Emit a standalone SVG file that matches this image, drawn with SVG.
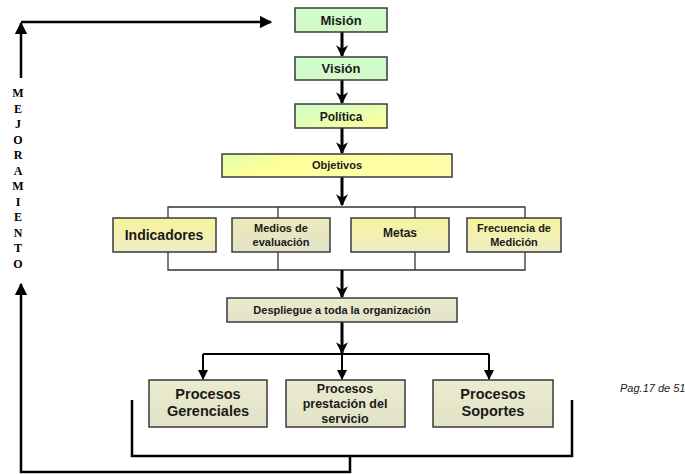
<svg xmlns="http://www.w3.org/2000/svg" width="685" height="474" viewBox="0 0 685 474">
  <style>
    .box { stroke: #3a3a3a; stroke-width: 1.5; }
    .lbl { font-family: "Liberation Sans", Arial, sans-serif; font-weight: bold; fill: #1a1a1a; text-anchor: middle; }
    .thick { fill: none; stroke: #000; stroke-width: 3; }
    .mid { fill: none; stroke: #000; stroke-width: 2; }
    .thin { fill: none; stroke: #333; stroke-width: 1.3; }
    .loop { fill: none; stroke: #000; stroke-width: 2.5; }
    .vert { font-family: "Liberation Serif", "Times New Roman", serif; font-weight: bold; font-size: 12px; fill: #000; text-anchor: middle; }
  </style>
  <defs>
    <marker id="ah" viewBox="0 0 10 10" refX="9" refY="5" markerWidth="4" markerHeight="4" orient="auto" markerUnits="strokeWidth">
      <path d="M0,0 L10,5 L0,10 L3,5 z" fill="#000"/>
    </marker>
    <marker id="ahs" viewBox="0 0 10 10" refX="9" refY="5" markerWidth="5" markerHeight="5" orient="auto" markerUnits="strokeWidth">
      <path d="M0,0 L10,5 L0,10 z" fill="#000"/>
    </marker>
    <linearGradient id="gGreen" x1="0" y1="0" x2="0" y2="1">
      <stop offset="0" stop-color="#ccffcc"/>
      <stop offset="1" stop-color="#d6f8c8"/>
    </linearGradient>
    <linearGradient id="gPol" x1="0" y1="0" x2="1" y2="1">
      <stop offset="0" stop-color="#ccffcc"/>
      <stop offset="1" stop-color="#ffff99"/>
    </linearGradient>
    <linearGradient id="gObj" x1="0" y1="0" x2="1" y2="0.3">
      <stop offset="0" stop-color="#ddffaa"/>
      <stop offset="0.35" stop-color="#ffff99"/>
      <stop offset="1" stop-color="#ffffaa"/>
    </linearGradient>
    <linearGradient id="gYel" x1="0" y1="0" x2="0" y2="1">
      <stop offset="0" stop-color="#f8f49a"/>
      <stop offset="1" stop-color="#eeecc8"/>
    </linearGradient>
    <linearGradient id="gBeige" x1="0" y1="0" x2="0" y2="1">
      <stop offset="0" stop-color="#eceab8"/>
      <stop offset="1" stop-color="#e2e2c8"/>
    </linearGradient>
    <linearGradient id="gProc" x1="0" y1="0" x2="0" y2="1">
      <stop offset="0" stop-color="#ebebcf"/>
      <stop offset="1" stop-color="#e2e2c6"/>
    </linearGradient>
  </defs>

  <!-- connectors -->
  <g id="connectors">
    <line class="thick" x1="342" y1="32" x2="342" y2="56" marker-end="url(#ah)"/>
    <line class="thick" x1="342" y1="80" x2="342" y2="103" marker-end="url(#ah)"/>
    <line class="thick" x1="342" y1="128" x2="342" y2="153" marker-end="url(#ah)"/>
    <line class="thick" x1="342" y1="177" x2="342" y2="205" marker-end="url(#ah)"/>
    <!-- frame around the four components -->
    <polyline class="thin" points="168,218 168,207 525,207 525,218"/>
    <line class="thin" x1="278" y1="207" x2="278" y2="218"/>
    <line class="thin" x1="415" y1="207" x2="415" y2="218"/>
    <polyline class="thin" points="168,252 168,270 525,270 525,252"/>
    <line class="thin" x1="278" y1="252" x2="278" y2="270"/>
    <line class="thin" x1="415" y1="252" x2="415" y2="270"/>
    <line class="thick" x1="342" y1="270" x2="342" y2="297" marker-end="url(#ah)"/>
    <line class="thick" x1="342" y1="322" x2="342" y2="353" marker-end="url(#ah)"/>
    <!-- branching to the processes -->
    <line class="mid" x1="203" y1="354" x2="489" y2="354"/>
    <line class="mid" x1="203" y1="354" x2="203" y2="379" marker-end="url(#ahs)"/>
    <line class="mid" x1="342" y1="354" x2="342" y2="379" marker-end="url(#ahs)"/>
    <line class="mid" x1="489" y1="354" x2="489" y2="379" marker-end="url(#ahs)"/>
    <!-- bracket under the processes -->
    <polyline class="loop" points="132,400 132,456 572,456 572,400"/>
    <!-- improvement feedback loop -->
    <polyline class="loop" points="350,456 350,472 21,472 21,284" marker-end="url(#ahs)"/>
    <line class="loop" x1="21" y1="78" x2="21" y2="23" marker-end="url(#ahs)"/>
    <line class="loop" x1="21" y1="22" x2="271" y2="22" marker-end="url(#ahs)"/>
  </g>

  <g id="mision">
    <rect class="box" x="295" y="8" width="92" height="24" fill="url(#gGreen)"/>
    <text class="lbl" x="341" y="25" font-size="13">Misión</text>
  </g>
  <g id="vision">
    <rect class="box" x="295" y="57" width="92" height="23" fill="url(#gGreen)"/>
    <text class="lbl" x="341" y="73" font-size="13">Visión</text>
  </g>
  <g id="politica">
    <rect class="box" x="295" y="104" width="92" height="24" fill="url(#gPol)"/>
    <text class="lbl" x="341" y="121" font-size="12">Política</text>
  </g>
  <g id="objetivos">
    <rect class="box" x="222" y="154" width="230" height="23" fill="url(#gObj)"/>
    <text class="lbl" x="337" y="169" font-size="11">Objetivos</text>
  </g>

  <g id="indicadores">
    <rect class="box" x="113" y="218" width="103" height="34" fill="url(#gYel)"/>
    <text class="lbl" x="164" y="240" font-size="14">Indicadores</text>
  </g>
  <g id="medios">
    <rect class="box" x="232" y="218" width="98" height="34" fill="url(#gBeige)"/>
    <text class="lbl" x="281" y="232" font-size="11">Medios de</text>
    <text class="lbl" x="281" y="246" font-size="11">evaluación</text>
  </g>
  <g id="metas">
    <rect class="box" x="351" y="218" width="98" height="34" fill="url(#gYel)"/>
    <text class="lbl" x="400" y="237" font-size="12">Metas</text>
  </g>
  <g id="frecuencia">
    <rect class="box" x="467" y="218" width="94" height="34" fill="url(#gYel)"/>
    <text class="lbl" x="514" y="232" font-size="11">Frecuencia de</text>
    <text class="lbl" x="514" y="246" font-size="11">Medición</text>
  </g>

  <g id="despliegue">
    <rect class="box" x="227" y="298" width="230" height="24" fill="url(#gProc)"/>
    <text class="lbl" x="342" y="314" font-size="11">Despliegue a toda la organización</text>
  </g>

  <g id="gerenciales">
    <rect class="box" x="149" y="380" width="118" height="47" fill="url(#gProc)"/>
    <text class="lbl" x="208" y="399" font-size="14.5">Procesos</text>
    <text class="lbl" x="208" y="416" font-size="14.5">Gerenciales</text>
  </g>
  <g id="prestacion">
    <rect class="box" x="286" y="380" width="119" height="47" fill="url(#gProc)"/>
    <text class="lbl" x="345" y="393" font-size="12.5">Procesos</text>
    <text class="lbl" x="345" y="408" font-size="12.5">prestación del</text>
    <text class="lbl" x="345" y="423" font-size="12.5">servicio</text>
  </g>
  <g id="soportes">
    <rect class="box" x="433" y="380" width="120" height="47" fill="url(#gProc)"/>
    <text class="lbl" x="493" y="399" font-size="14.5">Procesos</text>
    <text class="lbl" x="493" y="416" font-size="14.5">Soportes</text>
  </g>

  <g id="mejoramiento">
    <text class="vert" x="18" y="97">M</text>
    <text class="vert" x="18" y="112.5">E</text>
    <text class="vert" x="18" y="128">J</text>
    <text class="vert" x="18" y="143.5">O</text>
    <text class="vert" x="18" y="159">R</text>
    <text class="vert" x="18" y="174.5">A</text>
    <text class="vert" x="18" y="190">M</text>
    <text class="vert" x="18" y="205.5">I</text>
    <text class="vert" x="18" y="221">E</text>
    <text class="vert" x="18" y="236.5">N</text>
    <text class="vert" x="18" y="252">T</text>
    <text class="vert" x="18" y="267.5">O</text>
  </g>

  <text x="620" y="392" font-family="Liberation Sans, Arial, sans-serif" font-style="italic" font-size="11" fill="#222">Pag.17 de 51</text>
</svg>
